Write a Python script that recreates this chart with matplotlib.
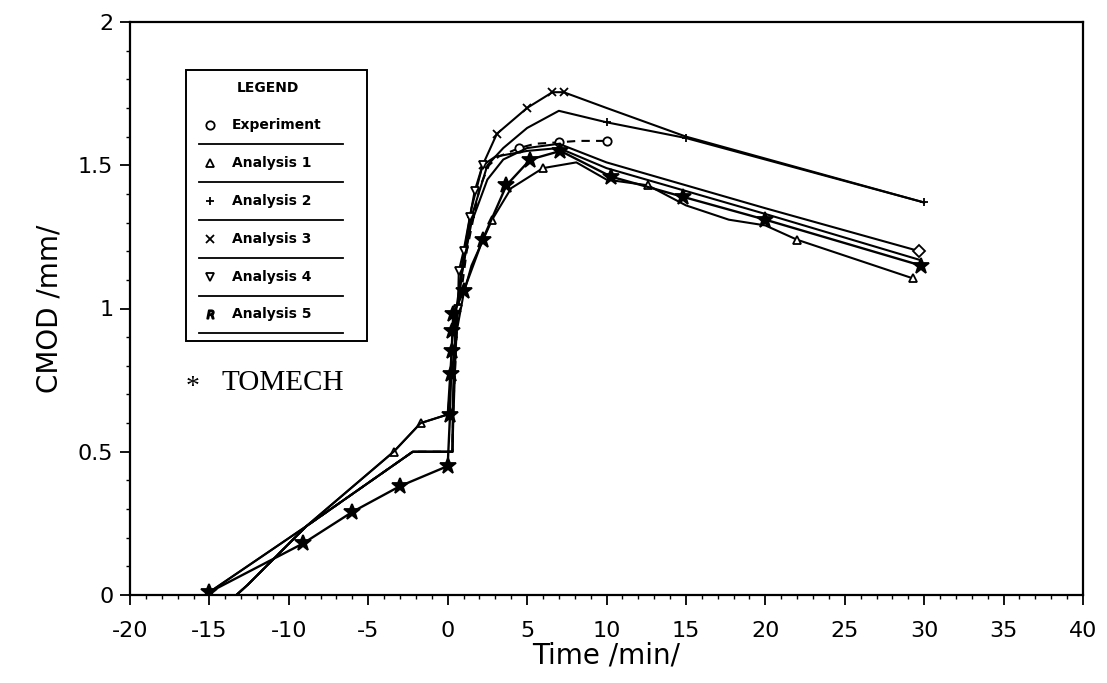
import numpy as np
import matplotlib.pyplot as plt
from matplotlib.lines import Line2D
from matplotlib.ticker import MultipleLocator

plt.rcParams['axes.unicode_minus'] = False

t_tomech = [-15.0, -9.1, -6.0, -3.0, 0.0, 0.15, 0.2, 0.25, 0.3, 0.35, 1.0, 2.2, 3.7, 5.2, 7.1, 10.3, 14.8, 20.0, 29.8]
v_tomech = [0.01, 0.18, 0.29, 0.38, 0.45, 0.63, 0.77, 0.85, 0.92, 0.98, 1.06, 1.24, 1.43, 1.52, 1.55, 1.46, 1.39, 1.31, 1.15]

t_exp = [-13.3, -12.6, -8.9, -2.2, 0.3, 0.35, 0.6, 1.2, 2.0, 2.6, 3.2, 4.5, 5.5, 7.0, 8.2, 10.0]
v_exp = [0.0, 0.035, 0.24, 0.5, 0.5, 0.65, 0.95, 1.2, 1.42, 1.50, 1.53, 1.56, 1.575, 1.58, 1.585, 1.585]

t_an1 = [-15.0, -8.9, -3.4, -1.7, 0.0, 0.5, 1.0, 1.5, 2.8, 4.0, 6.0, 8.1, 10.0, 12.6, 15.0, 17.7, 20.0, 22.0, 29.3]
v_an1 = [0.01, 0.24, 0.5, 0.6, 0.63, 0.9, 1.05, 1.15, 1.31, 1.42, 1.49, 1.51, 1.45, 1.43, 1.36, 1.31, 1.29, 1.24, 1.105]

t_an2 = [-13.3, -12.6, -8.9, -2.2, 0.3, 0.35, 0.5, 0.9, 1.5, 2.5, 3.5, 5.0, 7.0, 10.0, 15.0, 30.0]
v_an2 = [0.0, 0.035, 0.24, 0.5, 0.5, 0.7, 0.93, 1.12, 1.32, 1.50, 1.56, 1.63, 1.69, 1.65, 1.595, 1.37]

t_an3 = [-13.3, -12.6, -8.9, -2.2, 0.3, 0.35, 0.5, 0.9, 1.5, 2.2, 3.1, 5.0, 6.6, 7.3, 10.0, 15.0, 30.0]
v_an3 = [0.0, 0.035, 0.24, 0.5, 0.5, 0.7, 0.95, 1.15, 1.35, 1.50, 1.61, 1.70, 1.755, 1.755, 1.70, 1.60, 1.37]

t_an4 = [-13.3, -12.6, -8.9, -2.2, 0.3, 0.35, 0.5, 0.65, 0.7, 1.0, 1.4, 1.7, 2.2, 3.0, 5.0, 7.0, 10.0, 15.0, 20.0, 29.7]
v_an4 = [0.0, 0.035, 0.24, 0.5, 0.5, 0.6, 0.85, 1.0, 1.13, 1.2, 1.32, 1.41, 1.5, 1.53, 1.55, 1.56, 1.49, 1.41, 1.33, 1.17]

t_an5 = [-15.0, -8.9, -3.4, -1.7, 0.0, 0.3, 0.8, 1.5, 2.5, 3.5, 5.0, 7.0, 10.0, 15.0, 20.0, 29.7]
v_an5 = [0.01, 0.24, 0.5, 0.6, 0.63, 0.9, 1.1, 1.3, 1.45, 1.52, 1.56, 1.575, 1.51, 1.43, 1.35, 1.20]

legend_names = ["Experiment", "Analysis 1", "Analysis 2", "Analysis 3", "Analysis 4", "Analysis 5"]
legend_marks = ["o", "^", "+", "x", "v", "$R$"]

W, H = 1107, 683
fig = plt.figure(figsize=(W / 100, H / 100), dpi=100)
ax = fig.add_axes([130 / W, 1 - 595 / H, (1083 - 130) / W, (595 - 22) / H])

k = dict(color="black", lw=1.5, mfc="white", mec="black", ms=6, mew=1.3)
ax.plot(t_exp, v_exp, ls=(0, (4, 3)), marker="o", markevery=[11, 13, 15], **k)
ax.plot(t_an1, v_an1, marker="^", markevery=[2, 3, 8, 10, 13, 17, 18], **k)
ax.plot(t_an2, v_an2, marker="+", markevery=[8, 13, 14, 15], **k)
ax.plot(t_an3, v_an3, marker="x", markevery=[9, 10, 11, 12, 13], **k)
ax.plot(t_an4, v_an4, marker="v", markevery=[7, 8, 9, 10, 11, 12], **k)
ax.plot(t_an5, v_an5, marker="D", markevery=[15], **k)
ax.plot(t_tomech, v_tomech, color="black", lw=1.7, marker="*", ms=12,
        mfc="black", mec="black", mew=1.3)

ax.set_xlim(-20, 40)
ax.set_ylim(0, 2)
ax.xaxis.set_major_locator(MultipleLocator(5))
ax.xaxis.set_minor_locator(MultipleLocator(1))
ax.yaxis.set_major_locator(MultipleLocator(0.5))
ax.yaxis.set_minor_locator(MultipleLocator(0.1))
ax.set_yticks([0, 0.5, 1, 1.5, 2])
ax.set_yticklabels(["0", "0.5", "1", "1.5", "2"])
ax.tick_params(which="major", direction="out", length=7, width=1.3, labelsize=16)
ax.tick_params(axis="x", which="major", pad=12)
ax.tick_params(axis="y", which="major", pad=5)
ax.tick_params(which="minor", direction="out", length=3, width=1.0)
for s in ax.spines.values():
    s.set_linewidth(1.6)

ax.set_xlabel("Time /min/", fontsize=20, labelpad=0)
ax.set_ylabel("CMOD /mm/", fontsize=20, labelpad=10)


def fx(px):
    return px / W


def fy(py):
    return 1 - py / H


# legend box drawn by hand like the original
fig.add_artist(plt.Rectangle((fx(186), fy(341)), fx(367) - fx(186), fy(70) - fy(341),
                             transform=fig.transFigure, fill=False, lw=1.4, ec="black"))
fig.text(fx(268), fy(88), "LEGEND", fontsize=10, fontweight="bold", ha="center", va="center")
rows = [125, 163, 201, 239, 277, 314]
for name, mk, ry in zip(legend_names, legend_marks, rows):
    fig.add_artist(Line2D([fx(210)], [fy(ry)], transform=fig.transFigure, marker=mk,
                          ms=6, mfc="white", mec="black", mew=1.3, color="black", lw=0))
    fig.text(fx(232), fy(ry), name, fontsize=10, fontweight="bold", va="center")
    fig.add_artist(Line2D([fx(199), fx(343)], [fy(ry + 19), fy(ry + 19)],
                          transform=fig.transFigure, color="black", lw=1.3))

fig.text(fx(193), fy(388), "*", fontsize=20, ha="center", va="center", family="Liberation Serif")
fig.text(fx(222), fy(383), "TOMECH", fontsize=21, va="center", family="Liberation Serif")

fig.savefig("out.png", dpi=100)
